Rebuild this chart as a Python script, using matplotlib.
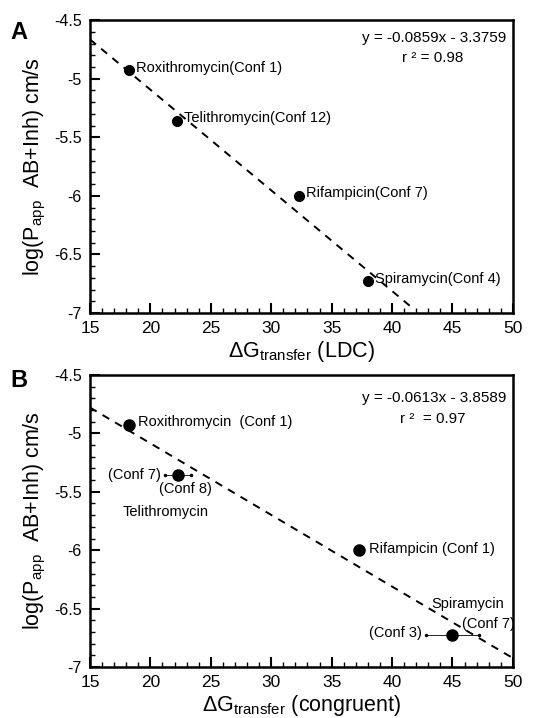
import numpy as np
import matplotlib.pyplot as plt
from matplotlib.ticker import MultipleLocator

plt.rcParams['font.family'] = ['Liberation Sans', 'DejaVu Sans']
plt.rcParams['mathtext.fontset'] = 'custom'
plt.rcParams['mathtext.rm'] = 'Liberation Sans'
plt.rcParams['mathtext.it'] = 'Liberation Sans:italic'

# panel A data (LDC)
a_names = ['Roxithromycin(Conf 1)', 'Telithromycin(Conf 12)', 'Rifampicin(Conf 7)', 'Spiramycin(Conf 4)']
a_x = [18.2, 22.2, 32.3, 38.0]
a_y = [-4.93, -5.36, -6.00, -6.73]
a_slope, a_icpt, a_r2 = -0.0859, -3.3759, 0.98
a_xfit = [15, 41.7]

# panel B data (congruent)
b_x = [18.2, 22.3, 37.3, 45.0]
b_y = [-4.93, -5.36, -6.00, -6.73]
b_xlo = [18.2, 21.2, 37.3, 42.8]
b_xhi = [18.2, 23.4, 37.3, 47.2]
b_slope, b_icpt, b_r2 = -0.0613, -3.8589, 0.97
b_xfit = [15, 50]

fig = plt.figure(figsize=(5.34, 7.18), dpi=100)
axA = fig.add_axes([0.1685, 0.564, 0.792, 0.408])
axB = fig.add_axes([0.1685, 0.071, 0.792, 0.4067])


def style(ax, xlabel):
    ax.set_xlim(15, 50)
    ax.set_ylim(-7, -4.5)
    ax.xaxis.set_major_locator(MultipleLocator(5))
    ax.xaxis.set_minor_locator(MultipleLocator(1))
    ax.yaxis.set_major_locator(MultipleLocator(0.5))
    ax.yaxis.set_minor_locator(MultipleLocator(0.1))
    ax.set_xticks([15, 20, 25, 30, 35, 40, 45, 50])
    ax.set_xticklabels(['15', '20', '25', '30', '35', '40', '45', '50'])
    ax.set_yticks([-7, -6.5, -6, -5.5, -5, -4.5])
    ax.set_yticklabels(['-7', '-6.5', '-6', '-5.5', '-5', '-4.5'])
    ax.tick_params(which='major', direction='in', length=7, width=1.5, labelsize=12.5, pad=6)
    ax.tick_params(which='minor', direction='in', length=3.5, width=1)
    ax.tick_params(axis='y', labelsize=11.5)
    for s in ax.spines.values():
        s.set_linewidth(1.8)
    ax.set_xlabel(xlabel, fontsize=15.5, labelpad=2)
    ax.set_ylabel(r'log(P$_{\mathrm{app}}$  AB+Inh) cm/s', fontsize=15.5, labelpad=4)


# A
xf = np.array(a_xfit)
axA.plot(xf, a_slope * xf + a_icpt, 'k--', lw=1.4, dashes=(4, 3.5))
axA.plot(a_x, a_y, 'ko', ms=7)
for n, x, y in zip(a_names, a_x, a_y):
    axA.annotate(n, (x, y), xytext=(5, 2), textcoords='offset points', fontsize=10.5, va='center')
axA.text(0.985, 0.94, 'y = -0.0859x - 3.3759', transform=axA.transAxes, ha='right', va='center', fontsize=11)
axA.text(0.81, 0.87, 'r ² = 0.98', transform=axA.transAxes, ha='center', va='center', fontsize=11)
style(axA, r'$\Delta$G$_{\mathrm{transfer}}$ (LDC)')
fig.text(0.02, 0.955, 'A', fontsize=17, fontweight='bold', va='center')

# B
xf = np.array(b_xfit)
axB.plot(xf, b_slope * xf + b_icpt, 'k--', lw=1.4, dashes=(4, 3.5))
for x, y, lo, hi in zip(b_x, b_y, b_xlo, b_xhi):
    if hi > lo:
        axB.plot([lo, hi], [y, y], color='k', lw=0.6)
        axB.plot([lo, hi], [y, y], 'k.', ms=3)
axB.plot(b_x, b_y, 'ko', ms=8)
axB.annotate('Roxithromycin  (Conf 1)', (b_x[0], b_y[0]), xytext=(7, 2), textcoords='offset points', fontsize=10.5, va='center')
axB.annotate('(Conf 7)', (b_xlo[1], b_y[1]), xytext=(-3, 0), textcoords='offset points', fontsize=10.5, va='center', ha='right')
axB.annotate('(Conf 8)', (b_x[1], b_y[1]), xytext=(-14, -10), textcoords='offset points', fontsize=10.5, va='center')
axB.annotate('Telithromycin', (b_x[1], b_y[1]), xytext=(-40, -26), textcoords='offset points', fontsize=10.5, va='center')
axB.annotate('Rifampicin (Conf 1)', (b_x[2], b_y[2]), xytext=(7, 1), textcoords='offset points', fontsize=10.5, va='center')
axB.annotate('Spiramycin', (b_x[3], b_y[3]), xytext=(-15, 23), textcoords='offset points', fontsize=10.5, va='center')
axB.annotate('(Conf 3)', (b_xlo[3], b_y[3]), xytext=(-3, 2), textcoords='offset points', fontsize=10.5, va='center', ha='right')
axB.annotate('(Conf 7)', (b_xhi[3], b_y[3]), xytext=(-12, 8), textcoords='offset points', fontsize=10.5, va='center')
axB.text(0.985, 0.92, 'y = -0.0613x - 3.8589', transform=axB.transAxes, ha='right', va='center', fontsize=11)
axB.text(0.81, 0.85, 'r ²  = 0.97', transform=axB.transAxes, ha='center', va='center', fontsize=11)
style(axB, r'$\Delta$G$_{\mathrm{transfer}}$ (congruent)')
fig.text(0.02, 0.47, 'B', fontsize=17, fontweight='bold', va='center')

fig.savefig('out.png', dpi=100)
